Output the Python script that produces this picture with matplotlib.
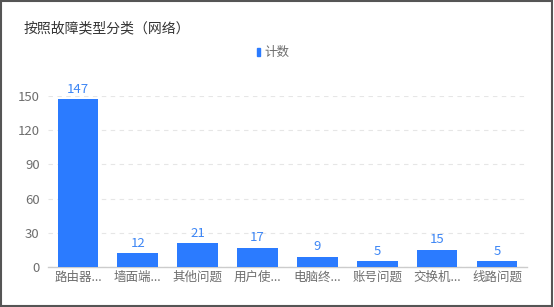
import matplotlib
matplotlib.use("Agg")
import matplotlib.pyplot as plt
from matplotlib.patches import Rectangle

plt.rcParams["font.family"] = ["Noto Sans CJK SC", "DejaVu Sans"]

categories = ["路由器...", "墙面端...", "其他问题", "用户使...", "电脑终...", "账号问题", "交换机...", "线路问题"]
counts = [147, 12, 21, 17, 9, 5, 15, 5]
y_ticks = [0, 30, 60, 90, 120, 150]

bar_color = "#2b7bff"
label_color = "#3d86f5"
text_gray = "#6e6e6e"

fig = plt.figure(figsize=(5.54, 3.07), dpi=100)
ax = fig.add_axes([0.0866, 0.1303, 0.8644, 0.557])

x = range(len(categories))
bars = ax.bar(x, counts, width=0.68, color=bar_color, zorder=3)
for xi, v in zip(x, counts):
    ax.text(xi, v + 3, str(v), ha="center", va="bottom", fontsize=9.5, color=label_color)

ax.set_xlim(-0.5, len(categories) - 0.5)
ax.set_ylim(0, 150)
ax.set_yticks(y_ticks)
ax.set_xticks(list(x))
ax.set_xticklabels(categories)
ax.tick_params(axis="both", length=0, labelsize=9, labelcolor=text_gray)
ax.tick_params(axis="y", pad=6, labelsize=9.5)
ax.tick_params(axis="x", pad=3)
ax.grid(axis="y", color="#e6e6e6", linestyle=(0, (4, 4)), linewidth=0.8, zorder=0)
for s in ["top", "right", "left"]:
    ax.spines[s].set_visible(False)
ax.spines["bottom"].set_color("#cccccc")
ax.spines["bottom"].set_linewidth(1)

fig.text(24 / 554, 1 - 28 / 307, "按照故障类型分类（网络）", fontsize=10, color="#333333",
         ha="left", va="center")
fig.patches.append(Rectangle((257 / 554, 1 - 56 / 307), 3 / 554, 8 / 307,
                             transform=fig.transFigure, color=bar_color))
fig.text(264 / 554, 1 - 52 / 307, "计数", fontsize=9, color=text_gray, ha="left", va="center")

fig.patches.append(Rectangle((0.001, 0.002), 0.996, 0.996, transform=fig.transFigure,
                             fill=False, edgecolor="#555555", linewidth=1.5))

fig.savefig("out.png", dpi=100, facecolor="white")
plt.close(fig)
